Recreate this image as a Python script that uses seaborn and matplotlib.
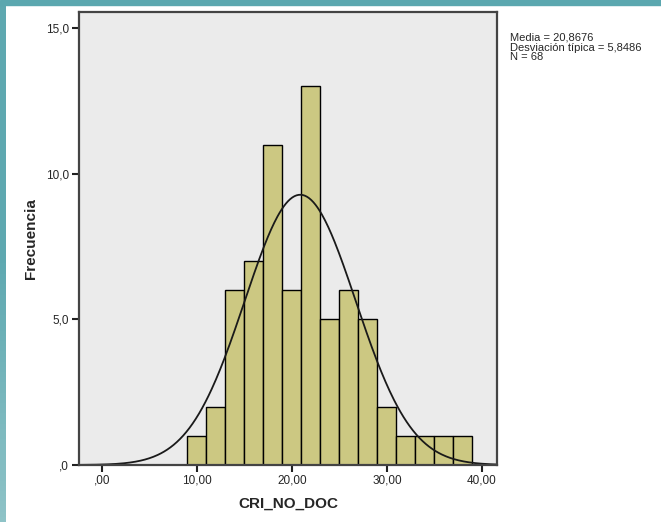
import numpy as np
import pandas as pd
import matplotlib
matplotlib.use('Agg')
import matplotlib.pyplot as plt
import seaborn as sns
from matplotlib.patches import Rectangle
from matplotlib.ticker import FixedLocator

# Data
bin_left = [9, 11, 13, 15, 17, 19, 21, 23, 25, 27, 29, 31, 33, 35, 37]
counts = [1, 2, 6, 7, 11, 6, 13, 5, 6, 5, 2, 1, 1, 1, 1]
bin_width = 2
media = 20.8676
desv = 5.8486
n_total = 68
x_ticks = [0, 10, 20, 30, 40]
x_labels = [',00', '10,00', '20,00', '30,00', '40,00']
y_ticks = [0, 5, 10, 15]
y_labels = [',0', '5,0', '10,0', '15,0']

df = pd.DataFrame({'centro': [b + bin_width / 2 for b in bin_left], 'n': counts})
edges = bin_left + [bin_left[-1] + bin_width]

sns.set_style('white')
plt.rcParams['font.family'] = ['Liberation Sans', 'DejaVu Sans']

fig = plt.figure(figsize=(6.61, 5.22), dpi=100)
# slide border (teal strips at top and left)
fig.patches.append(Rectangle((0, 1 - 5 / 522), 1, 5 / 522, transform=fig.transFigure,
                             color='#5ba7af', zorder=0))
grad = np.linspace(0, 1, 100).reshape(-1, 1)
bax = fig.add_axes([0, 0, 6 / 661, 1 - 5 / 522])
bax.imshow(grad, aspect='auto', cmap=matplotlib.colors.LinearSegmentedColormap.from_list(
    'b', ['#5ea8b0', '#5fa9b1', '#8ec3c7']), origin='upper')
bax.axis('off')

ax = fig.add_axes([79 / 661, 1 - 465 / 522, (497 - 79) / 661, (465 - 12) / 522])
ax.set_facecolor('#ebebeb')

sns.histplot(data=df, x='centro', weights='n', bins=edges, ax=ax,
             color='#ccc882', edgecolor='black', linewidth=1, alpha=1)

xs = np.linspace(-2.5, 42, 400)
ys = n_total * bin_width * np.exp(-0.5 * ((xs - media) / desv) ** 2) / (desv * np.sqrt(2 * np.pi))
ax.plot(xs, ys, color='#1a1a1a', linewidth=1.3)

ax.set_xlim(-2.42, 41.58)
ax.set_ylim(0, 15.55)
ax.xaxis.set_major_locator(FixedLocator(x_ticks))
ax.set_xticklabels(x_labels, fontsize=8.5)
ax.yaxis.set_major_locator(FixedLocator(y_ticks))
ax.set_yticklabels(y_labels, fontsize=8.5)
ax.tick_params(axis='both', direction='out', length=5, width=1.5, color='#222222',
               left=True, bottom=True, pad=2)
for s in ax.spines.values():
    s.set_color('#444444')
    s.set_linewidth(1.6)

ax.set_xlabel('CRI_NO_DOC', fontsize=11, fontweight='bold', labelpad=7)
ax.set_ylabel('Frecuencia', fontsize=11, fontweight='bold')
ax.yaxis.set_label_coords(-0.097, 0.5)

fig.text(510 / 661, 1 - 33 / 522,
         'Media = 20,8676\nDesviación típica = 5,8486\nN = 68',
         fontsize=8, va='top', ha='left', linespacing=0.95)

fig.savefig('out.png', dpi=100)
